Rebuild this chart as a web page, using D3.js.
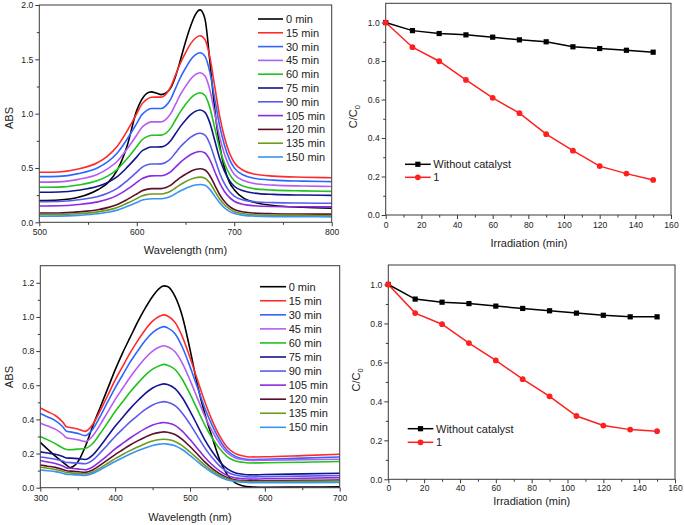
<!DOCTYPE html>
<html><head><meta charset="utf-8">
<script src="https://cdn.jsdelivr.net/npm/d3@7"></script>
<style>
body{margin:0;background:#fff;}
svg{display:block;font-family:"Liberation Sans",Arial,sans-serif;}
</style></head><body>
<svg id="c" width="685" height="525"></svg>
<script>
// ---------- DATA ----------
const timeLabels = ["0 min","15 min","30 min","45 min","60 min","75 min","90 min","105 min","120 min","135 min","150 min"];
const seriesColors = ["#000000","#ff2a2a","#2f66ff","#b45cf2","#1fc21f","#14148f","#5a5af0","#8a2be2","#5c0f2a","#6e9a1e","#3a94f0"];

// top-left spectra (500-800 nm)
const topWave = [500,520,540,560,570,580,590,600,605,610,615,620,625,630,635,640,645,650,655,660,665,670,675,680,685,690,695,700,710,720,740,770,800];
const top0   = [.20,.205,.23,.30,.36,.48,.70,1.03,1.13,1.185,1.20,1.19,1.175,1.19,1.24,1.35,1.50,1.66,1.80,1.91,1.955,1.87,1.48,1.04,.71,.50,.37,.30,.22,.185,.155,.138,.129];
const top15  = [.46,.463,.49,.55,.61,.70,.839,1.0,1.085,1.13,1.151,1.152,1.152,1.18,1.25,1.361,1.47,1.56,1.64,1.694,1.717,1.681,1.519,1.25,.979,.78,.64,.55,.475,.445,.425,.415,.41];
const top30  = [.42,.423,.448,.502,.556,.638,.764,.911,.987,1.028,1.047,1.048,1.048,1.074,1.137,1.237,1.337,1.418,1.491,1.54,1.561,1.527,1.381,1.136,.891,.71,.582,.501,.433,.406,.388,.379,.374];
const top45  = [.37,.372,.395,.442,.491,.562,.674,.804,.871,.907,.924,.924,.924,.948,1.003,1.091,1.179,1.251,1.315,1.359,1.377,1.347,1.219,1.003,.785,.627,.514,.442,.382,.358,.342,.334,.33];
const top60  = [.322,.324,.343,.384,.425,.488,.585,.697,.755,.786,.801,.801,.802,.821,.869,.946,1.021,1.084,1.14,1.177,1.193,1.167,1.055,.868,.68,.543,.445,.383,.331,.31,.296,.289,.285];
const top75  = [.277,.279,.295,.331,.367,.421,.505,.602,.654,.68,.693,.693,.694,.711,.753,.819,.885,.94,.988,1.021,1.034,1.012,.915,.753,.59,.471,.386,.332,.287,.269,.257,.251,.248];
const top90  = [.19,.192,.207,.237,.267,.312,.382,.462,.504,.527,.537,.537,.538,.552,.587,.642,.697,.741,.781,.809,.82,.802,.721,.588,.454,.355,.285,.241,.204,.19,.181,.177,.175];
const top105 = [.15,.152,.164,.188,.212,.248,.303,.367,.40,.418,.427,.428,.428,.44,.467,.51,.554,.59,.622,.643,.652,.638,.574,.468,.362,.284,.229,.194,.164,.153,.146,.143,.142];
const top120 = [.085,.086,.096,.115,.135,.164,.209,.261,.288,.303,.31,.31,.31,.32,.342,.378,.413,.442,.468,.486,.493,.481,.429,.343,.256,.192,.147,.118,.094,.085,.079,.076,.075];
const top135 = [.07,.071,.079,.096,.112,.137,.175,.219,.242,.255,.261,.261,.261,.269,.288,.318,.348,.373,.395,.41,.416,.406,.362,.289,.215,.161,.123,.098,.078,.07,.065,.063,.062];
const top150 = [.056,.057,.064,.078,.092,.112,.145,.182,.202,.212,.217,.217,.217,.224,.24,.265,.291,.312,.33,.343,.348,.34,.303,.241,.179,.133,.101,.08,.064,.057,.052,.051,.05];

// bottom-left spectra (300-700 nm)
const botWave = [300,310,320,330,335,340,350,360,370,380,390,400,410,420,430,440,450,460,465,470,480,490,500,510,520,530,540,550,560,570,580,600,650,700];
const bot0   = [.265,.225,.185,.15,.132,.118,.15,.24,.36,.47,.58,.69,.79,.88,.97,1.05,1.12,1.17,1.182,1.178,1.12,1.00,.81,.60,.43,.29,.16,.075,.03,.012,.005,.003,.004,.005];
const bot15  = [.467,.445,.423,.385,.357,.353,.344,.33,.37,.45,.54,.63,.71,.789,.86,.924,.975,1.005,1.012,1.005,.968,.882,.762,.631,.50,.39,.30,.235,.201,.187,.18,.181,.188,.196];
const bot30  = [.435,.414,.393,.357,.331,.327,.318,.305,.342,.417,.502,.585,.66,.735,.80,.861,.908,.936,.943,.936,.902,.821,.709,.587,.464,.361,.277,.216,.185,.171,.165,.167,.173,.18];
const bot45  = [.378,.361,.343,.313,.292,.288,.281,.27,.303,.369,.443,.516,.582,.647,.705,.758,.80,.825,.831,.825,.796,.727,.63,.523,.417,.328,.256,.203,.176,.165,.16,.161,.164,.167];
const bot60  = [.30,.28,.258,.232,.224,.222,.226,.23,.259,.317,.381,.446,.503,.56,.611,.658,.694,.716,.722,.717,.692,.632,.549,.457,.365,.288,.226,.181,.158,.149,.145,.146,.149,.153];
const bot75  = [.21,.203,.196,.183,.174,.173,.17,.165,.191,.243,.301,.36,.411,.463,.509,.551,.584,.603,.608,.604,.58,.525,.448,.364,.279,.209,.151,.11,.088,.079,.075,.077,.081,.085];
const bot90  = [.18,.174,.167,.156,.148,.147,.144,.14,.161,.204,.252,.30,.343,.385,.422,.457,.484,.50,.504,.50,.481,.435,.372,.302,.232,.174,.126,.092,.074,.067,.063,.065,.068,.071];
const bot105 = [.159,.15,.142,.127,.116,.114,.11,.105,.121,.154,.19,.227,.259,.291,.32,.346,.367,.379,.382,.379,.365,.33,.282,.23,.177,.133,.097,.071,.058,.053,.05,.052,.055,.059];
const bot120 = [.133,.126,.119,.107,.099,.097,.094,.09,.104,.132,.163,.194,.222,.25,.274,.296,.314,.324,.327,.325,.312,.282,.241,.196,.15,.112,.081,.059,.047,.042,.04,.041,.043,.045];
const bot135 = [.12,.114,.107,.096,.088,.087,.084,.08,.092,.116,.143,.17,.194,.217,.238,.258,.273,.282,.284,.282,.271,.245,.209,.17,.131,.098,.071,.052,.041,.037,.035,.036,.037,.039];
const bot150 = [.104,.099,.094,.085,.078,.077,.075,.072,.083,.105,.129,.153,.175,.197,.216,.233,.247,.255,.257,.255,.245,.222,.189,.153,.117,.087,.063,.045,.036,.032,.03,.03,.03,.031];

// kinetics
const times     = [0,15,30,45,60,75,90,105,120,135,150];
const topNoCat  = [1.0,.958,.943,.936,.924,.91,.90,.874,.865,.856,.846];
const topCat    = [1.0,.872,.799,.702,.609,.529,.42,.334,.254,.215,.182];
const botNoCat  = [1.0,.925,.909,.902,.889,.877,.865,.853,.842,.834,.834];
const botCat    = [1.0,.853,.796,.699,.61,.514,.426,.325,.276,.255,.247];
const kinLabels = ["Without catalyst","1"];

// tick values
const tlXTicks = [500,600,700,800], tlXMinor = [550,650,750];
const tlYTicks = [0,0.5,1.0,1.5,2.0], tlYMinor = [0.25,0.75,1.25,1.75];
const blXTicks = [300,400,500,600,700], blXMinor = [350,450,550,650];
const blYTicks = [0,0.2,0.4,0.6,0.8,1.0,1.2], blYMinor = [0.1,0.3,0.5,0.7,0.9,1.1];
const kXTicks = [0,20,40,60,80,100,120,140,160], kXMinor = [10,30,50,70,90,110,130,150];
const kYTicks = [0,0.2,0.4,0.6,0.8,1.0], kYMinor = [0.1,0.3,0.5,0.7,0.9];

// ---------- DRAW ----------
const svg = d3.select('#c');
const axisColor = '#3a3a3a';
const textColor = '#222';
let clipId = 0;

function panel(box, xDom, yDom, xt, xm, yt, ym, yfmt, xPad) {
  const x = d3.scaleLinear().domain(xDom).range([box.l, box.r]);
  const y = d3.scaleLinear().domain(yDom).range([box.b, box.t]);
  const g = svg.append('g');
  const clean = s => { s.select('.domain').remove(); s.selectAll('line').attr('stroke', axisColor); s.selectAll('text').attr('fill', textColor).attr('font-size', 8.6).attr('font-family','"Liberation Sans",Arial,sans-serif'); };
  g.append('g').attr('transform', `translate(0,${box.b})`).call(d3.axisBottom(x).tickValues(xm).tickSize(2.5).tickFormat('')).call(clean);
  g.append('g').attr('transform', `translate(0,${box.b})`).call(d3.axisBottom(x).tickValues(xt).tickSize(4).tickPadding(xPad == null ? 3 : xPad).tickFormat(d3.format('d'))).call(clean);
  g.append('g').attr('transform', `translate(${box.l},0)`).call(d3.axisLeft(y).tickValues(ym).tickSize(2.5).tickFormat('')).call(clean);
  g.append('g').attr('transform', `translate(${box.l},0)`).call(d3.axisLeft(y).tickValues(yt).tickSize(4).tickPadding(2).tickFormat(d3.format(yfmt))).call(clean);
  const id = 'clip' + (clipId++);
  svg.append('clipPath').attr('id', id).append('rect').attr('x', box.l).attr('y', box.t).attr('width', box.r - box.l).attr('height', box.b - box.t);
  const plot = svg.append('g').attr('clip-path', `url(#${id})`);
  svg.append('rect').attr('x', box.l).attr('y', box.t).attr('width', box.r - box.l).attr('height', box.b - box.t)
    .attr('fill', 'none').attr('stroke', axisColor).attr('stroke-width', 1);
  return {x, y, plot};
}

function label(txt, x, y, rot, sub) {
  const t = svg.append('text').attr('font-size', 11).attr('fill', textColor).attr('text-anchor', 'middle')
    .attr('transform', `translate(${x},${y})` + (rot ? ' rotate(-90)' : ''));
  t.append('tspan').text(txt);
  if (sub) t.append('tspan').attr('font-size', 7.5).attr('dy', 3).text(sub);
  return t;
}

function spectra(box, xDom, yDom, xt, xm, yt, ym, wave, data, legend) {
  const p = panel(box, xDom, yDom, xt, xm, yt, ym, '.1f');
  const line = d3.line().x((d, i) => p.x(wave[i])).y(d => p.y(d)).curve(d3.curveMonotoneX);
  data.forEach((s, i) => {
    p.plot.append('path').datum(s).attr('d', line).attr('fill', 'none')
      .attr('stroke', seriesColors[i]).attr('stroke-width', 1.6).attr('stroke-linejoin', 'round');
  });
  const lg = svg.append('g');
  timeLabels.forEach((t, i) => {
    const yy = legend.y0 + legend.dy * i;
    lg.append('line').attr('x1', legend.x1).attr('x2', legend.x2).attr('y1', yy).attr('y2', yy)
      .attr('stroke', seriesColors[i]).attr('stroke-width', 1.6);
    lg.append('text').attr('x', legend.tx).attr('y', yy + 4).attr('font-size', 11).attr('fill', textColor).text(t);
  });
  return p;
}

function kinetics(box, noCat, cat, legend, xPad) {
  const p = panel(box, [0, 160], [0, 1.1], kXTicks, kXMinor, kYTicks, kYMinor, '.1f', xPad);
  const line = d3.line().x((d, i) => p.x(times[i])).y(d => p.y(d));
  const sets = [{d: noCat, c: '#000000', m: 'sq'}, {d: cat, c: '#ff1f1f', m: 'ci'}];
  sets.forEach(s => {
    p.plot.append('path').datum(s.d).attr('d', line).attr('fill', 'none').attr('stroke', s.c).attr('stroke-width', 1.5);
  });
  sets.forEach(s => {
    s.d.forEach((v, i) => marker(svg, p.x(times[i]), p.y(v), s.m, s.c));
  });
  kinLabels.forEach((t, i) => {
    const yy = legend.y0 + legend.dy * i;
    const s = sets[i];
    svg.append('line').attr('x1', legend.x1).attr('x2', legend.x2).attr('y1', yy).attr('y2', yy).attr('stroke', s.c).attr('stroke-width', 1.5);
    marker(svg, (legend.x1 + legend.x2) / 2, yy, s.m, s.c);
    svg.append('text').attr('x', legend.tx).attr('y', yy + 4).attr('font-size', 11).attr('fill', textColor).text(t);
  });
  return p;
}

function marker(g, cx, cy, m, c) {
  if (m === 'sq') g.append('rect').attr('x', cx - 2.6).attr('y', cy - 2.6).attr('width', 5.2).attr('height', 5.2).attr('fill', c);
  else g.append('circle').attr('cx', cx).attr('cy', cy).attr('r', 2.9).attr('fill', c);
}

// top-left
spectra({l: 39.3, r: 331.7, t: 5, b: 222.3}, [500, 800], [0, 2.0], tlXTicks, tlXMinor, tlYTicks, tlYMinor, topWave,
  [top0, top15, top30, top45, top60, top75, top90, top105, top120, top135, top150],
  {x1: 258, x2: 283, tx: 286, y0: 19, dy: 13.8});
label('Wavelength (nm)', 185.5, 254, false);
label('ABS', 12.7, 118, true);

// bottom-left
spectra({l: 40.3, r: 339.7, t: 265.7, b: 487.7}, [300, 700], [0, 1.3], blXTicks, blXMinor, blYTicks, blYMinor, botWave,
  [bot0, bot15, bot30, bot45, bot60, bot75, bot90, bot105, bot120, bot135, bot150],
  {x1: 260, x2: 286, tx: 288.7, y0: 286.7, dy: 14.06});
label('Wavelength (nm)', 190, 520.5, false);
label('ABS', 12.7, 377, true);

// top-right
kinetics({l: 385.7, r: 671, t: 3.3, b: 215}, topNoCat, topCat, {x1: 405, x2: 430.7, tx: 433.3, y0: 164.3, dy: 13});
label('Irradiation (min)', 529, 246.5, false);
label('C/C', 356.7, 116.7, true, '0');

// bottom-right
kinetics({l: 388.3, r: 675, t: 265, b: 479.3}, botNoCat, botCat, {x1: 407.7, x2: 433.3, tx: 436, y0: 428.7, dy: 13.6}, 2);
label('Irradiation (min)', 531.7, 505, false);
label('C/C', 360, 380, true, '0');
</script>
</body></html>
